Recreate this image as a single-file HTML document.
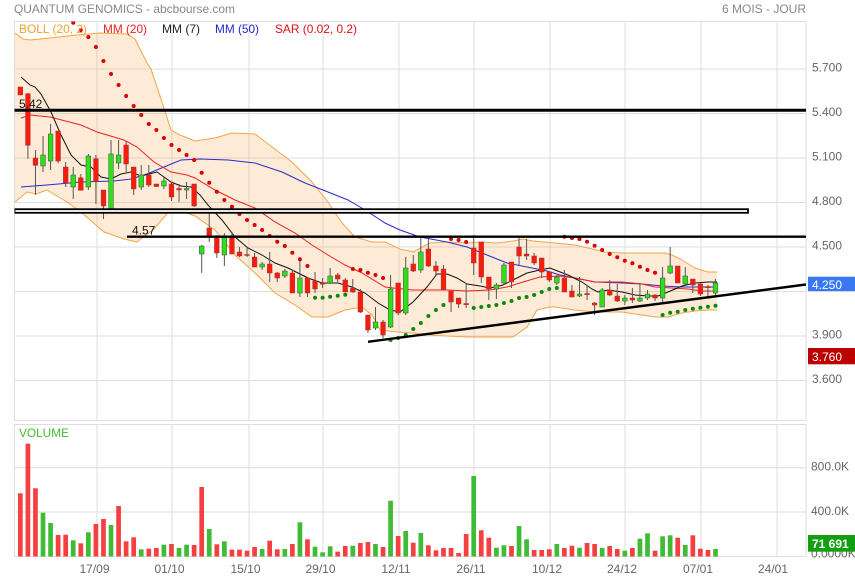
<!DOCTYPE html>
<html><head><meta charset="utf-8"><style>
html,body{margin:0;padding:0;background:#fff;}
svg{display:block;font-family:"Liberation Sans",Arial,sans-serif;}
.w{stroke:#555;stroke-width:1;fill:none}
.r{fill:#f51d0d;stroke:#a33;stroke-width:0.5}
.g{fill:#2ee01a;stroke:#444;stroke-width:0.5}
.vr{fill:#f44040}
.vg{fill:#3fbb35}
.sr{fill:#d80000}
.sg{fill:#0a8a0a}
.ax{font-size:12px;fill:#666}
</style></head><body>
<svg width="855" height="579" viewBox="0 0 855 579" xmlns="http://www.w3.org/2000/svg">
<defs><clipPath id="pc"><rect x="14.5" y="21.5" width="791.5" height="399"/></clipPath></defs>
<text x="14" y="13" font-size="12" fill="#888" textLength="221" lengthAdjust="spacingAndGlyphs">QUANTUM GENOMICS - abcbourse.com</text>
<text x="722" y="13" font-size="12" fill="#888" textLength="84" lengthAdjust="spacingAndGlyphs">6 MOIS - JOUR</text>
<!-- price frame & grid -->
<g stroke="#dedede" stroke-width="1" fill="none">
<rect x="14.5" y="21.5" width="791.5" height="399"/>
<path d="M14.5 69H806M14.5 113.5H806M14.5 158H806M14.5 202.5H806M14.5 247H806M14.5 291.5H806M14.5 336H806M14.5 380.5H806"/>
<path d="M97 21.5V420.5M172 21.5V420.5M249 21.5V420.5M323 21.5V420.5M399 21.5V420.5M474 21.5V420.5M550 21.5V420.5M625 21.5V420.5M701 21.5V420.5M777 21.5V420.5"/>
<rect x="14.5" y="424.5" width="791.5" height="132"/>
<path d="M14.5 467.7H806M14.5 512H806"/>
<path d="M97 424.5V556.5M172 424.5V556.5M249 424.5V556.5M323 424.5V556.5M399 424.5V556.5M474 424.5V556.5M550 424.5V556.5M625 424.5V556.5M701 424.5V556.5M777 424.5V556.5"/>
</g>
<g clip-path="url(#pc)">
<!-- Bollinger -->
<path fill="#f9b060" fill-opacity="0.25" stroke="none" d="M15 33L23 39L30 40L50 38L77 35L100 33L127 34L135 39L147 63L151 69L161 99L171 130L180 135L195 141L215 138L232 133L255 134L272 147L292 162L312 182L328 202L342 223L355 237L372 242L385 242L400 249L413 252L430 243L447 242L467 243L480 242L497 243L513 241L523 239L533 241L555 243L575 245L588 248L605 252L622 253L665 253L672 255L682 260L695 268L708 272L717 272L717 310L708 310L695 311L682 313L668 317L655 317L642 315L622 312L595 312L575 310L555 307L550 307L537 310L527 327L513 337L490 337L467 337L447 336L430 335L413 333L397 332L380 330L372 315L362 307L345 310L328 317L312 317L295 305L275 293L255 273L235 255L215 230L195 216L184 212L171 209L154 229L137 242L124 239L104 232L81 212L67 202L47 190L36 194L27 192L15 202Z"/>
<g fill="none" stroke="#f5a445" stroke-width="1">
<path d="M15 33L23 39L30 40L50 38L77 35L100 33L127 34L135 39L147 63L151 69L161 99L171 130L180 135L195 141L215 138L232 133L255 134L272 147L292 162L312 182L328 202L342 223L355 237L372 242L385 242L400 249L413 252L430 243L447 242L467 243L480 242L497 243L513 241L523 239L533 241L555 243L575 245L588 248L605 252L622 253L665 253L672 255L682 260L695 268L708 272L717 272"/>
<path d="M15 202L27 192L36 194L47 190L67 202L81 212L104 232L124 239L137 242L154 229L171 209L184 212L195 216L215 230L235 255L255 273L275 293L295 305L312 317L328 317L345 310L362 307L372 315L380 330L397 332L413 333L430 335L447 336L467 337L490 337L513 337L527 327L537 310L550 307L555 307L575 310L595 312L622 312L642 315L655 317L668 317L682 313L695 311L708 310L717 310"/>
</g>
<!-- MAs -->
<path fill="none" stroke="#2a2ad0" stroke-width="1" d="M21 187L47 185L81 182L114 181L131 179L147 174L164 167L181 160L200 159L228 160L255 163L282 172L305 183L328 192L348 200L365 210L385 223L400 230L420 237L447 242L467 247L487 255L507 263L527 267L547 271L560 275L575 278L595 282L622 283L642 284L662 286L682 287L717 287"/>
<path fill="none" stroke="#f02020" stroke-width="1" d="M21 118L30 115L50 117L81 125L97 132L124 140L137 147L154 162L171 172L187 175L195 178L215 190L235 200L255 208L275 222L295 233L312 245L328 255L345 265L362 273L385 287L393 288L413 290L447 290L467 291L490 290L507 287L523 282L540 277L560 276L575 278L595 282L622 282L642 284L655 287L672 288L688 289L702 291L717 291"/>
<path fill="none" stroke="#111" stroke-width="1" d="M21 77L30 85L35 87L41 94L51 112L61 135L71 155L81 165L91 167L101 177L111 179L121 174L131 172L141 176L157 172L171 182L181 186L191 187L200 195L208 205L222 220L235 237L248 248L262 255L275 263L288 268L308 278L322 283L338 283L352 287L365 293L378 303L390 310L400 312L413 302L427 287L437 274L447 274L457 278L467 284L480 286L490 288L503 285L513 280L527 273L540 270L550 268L555 270L568 275L582 282L592 289L598 292L608 290L622 292L635 295L648 296L658 296L668 292L682 286L695 283L708 282L717 282"/>
<!-- candles -->
<path class="w" d="M27.91 93V158.7M35.46 150V195M43.02 136V172M50.57 124V170M58.13 131V163M65.69 162V187M73.24 167V199M80.8 174V190.3M88.35 154V190M95.91 155V204M103.47 190V219M111.02 140V212M118.58 140V169M126.13 141V172M133.69 167V195M141.25 165V190M148.8 165V187M156.36 184V187M163.91 177V189M171.47 182V201M179.03 184V202M186.58 182V199M194.14 184V207M201.69 245V273M209.25 213V242M216.81 235V258M224.36 233V266M231.92 232V254M239.47 247V257M247.03 247V257M254.59 253V267M262.14 262V270M269.7 252V282M277.25 272V282M284.81 269V278M292.37 270V293M299.92 258V297M307.48 277V297M315.03 272V293M322.59 278V288M330.15 268V284M337.7 273V282M345.26 278V292M352.81 279V293M360.37 289V313M367.93 315V333M375.48 307V330M383.04 320V338M390.59 275V328M398.15 283V315M405.71 257V315M413.26 255V272M420.82 237V273M428.37 239V267M435.93 261V275M443.49 265V290M451.04 291V312M458.6 298V308M466.15 283V308M473.71 235V275M481.27 242V283M488.82 277V300M496.38 283V299M503.93 263V285M511.49 262V288M519.05 238V265M526.6 239V260M534.16 253V265M541.71 258V278M549.27 272V282M556.83 275V285M564.38 270V292M571.94 285V297M579.49 277V297M587.05 285V300M594.61 302V315M602.16 288V307M609.72 280V296M617.27 284V302M624.83 295V305M632.39 288V303M639.94 283V302M647.5 290V300M655.05 294V301M662.61 267V303M670.17 247V274M677.72 266V283M685.28 267V285M692.83 279V293M700.39 283V296M707.95 285V297M715.5 279V295"/>
<rect class="r" x="18" y="87" width="4.7" height="8"/>
<rect class="r" x="25.56" y="93.7" width="4.7" height="51.6"/>
<rect class="r" x="33.11" y="158" width="4.7" height="7.3"/>
<rect class="g" x="40.67" y="155" width="4.7" height="11"/>
<rect class="g" x="48.22" y="134" width="4.7" height="27"/>
<rect class="r" x="55.78" y="131" width="4.7" height="30"/>
<rect class="r" x="63.34" y="167" width="4.7" height="16"/>
<rect class="g" x="70.89" y="175" width="4.7" height="12"/>
<rect class="r" x="78.45" y="177.7" width="4.7" height="12.6"/>
<rect class="g" x="86" y="156" width="4.7" height="31"/>
<rect class="r" x="93.56" y="158.7" width="4.7" height="22.6"/>
<rect class="r" x="101.12" y="190" width="4.7" height="16"/>
<rect class="g" x="108.67" y="154" width="4.7" height="55"/>
<rect class="g" x="116.23" y="155" width="4.7" height="8"/>
<rect class="r" x="123.78" y="145" width="4.7" height="19"/>
<rect class="r" x="131.34" y="167" width="4.7" height="22"/>
<rect class="g" x="138.9" y="175" width="4.7" height="12"/>
<rect class="r" x="146.45" y="175" width="4.7" height="10"/>
<rect class="r" x="154.01" y="184" width="4.7" height="2.5"/>
<rect class="g" x="161.56" y="181" width="4.7" height="5"/>
<rect class="r" x="169.12" y="184" width="4.7" height="13"/>
<rect class="r" x="176.68" y="188.5" width="4.7" height="1.5"/>
<rect class="g" x="184.23" y="188.5" width="4.7" height="1.5"/>
<rect class="r" x="191.79" y="184" width="4.7" height="22"/>
<rect class="g" x="199.34" y="246" width="4.7" height="8"/>
<rect class="r" x="206.9" y="228" width="4.7" height="8"/>
<rect class="r" x="214.46" y="237" width="4.7" height="16"/>
<rect class="g" x="222.01" y="237" width="4.7" height="18"/>
<rect class="r" x="229.57" y="237" width="4.7" height="17"/>
<rect class="r" x="237.12" y="252" width="4.7" height="4"/>
<rect class="r" x="244.68" y="254.5" width="4.7" height="1"/>
<rect class="r" x="252.24" y="257" width="4.7" height="10"/>
<rect class="g" x="259.79" y="264" width="4.7" height="3"/>
<rect class="r" x="267.35" y="264" width="4.7" height="9"/>
<rect class="r" x="274.9" y="273" width="4.7" height="5"/>
<rect class="g" x="282.46" y="271" width="4.7" height="5"/>
<rect class="r" x="290.02" y="273" width="4.7" height="20"/>
<rect class="g" x="297.57" y="278" width="4.7" height="15"/>
<rect class="r" x="305.13" y="278" width="4.7" height="15"/>
<rect class="r" x="312.68" y="281" width="4.7" height="8"/>
<rect class="r" x="320.24" y="283" width="4.7" height="1.2"/>
<rect class="g" x="327.8" y="276" width="4.7" height="7"/>
<rect class="r" x="335.35" y="275" width="4.7" height="4"/>
<rect class="r" x="342.91" y="280" width="4.7" height="12"/>
<rect class="r" x="350.46" y="288" width="4.7" height="4"/>
<rect class="r" x="358.02" y="292" width="4.7" height="20"/>
<rect class="r" x="365.58" y="315" width="4.7" height="15"/>
<rect class="g" x="373.13" y="322" width="4.7" height="6"/>
<rect class="r" x="380.69" y="322" width="4.7" height="13"/>
<rect class="g" x="388.24" y="289" width="4.7" height="38"/>
<rect class="r" x="395.8" y="283" width="4.7" height="30"/>
<rect class="g" x="403.36" y="268" width="4.7" height="45"/>
<rect class="r" x="410.91" y="264" width="4.7" height="7"/>
<rect class="g" x="418.47" y="252" width="4.7" height="18"/>
<rect class="r" x="426.02" y="249" width="4.7" height="17"/>
<rect class="r" x="433.58" y="266" width="4.7" height="5"/>
<rect class="r" x="441.14" y="269" width="4.7" height="21"/>
<rect class="r" x="448.69" y="291" width="4.7" height="11"/>
<rect class="r" x="456.25" y="298" width="4.7" height="6"/>
<rect class="r" x="463.8" y="303.5" width="4.7" height="1.2"/>
<rect class="r" x="471.36" y="248" width="4.7" height="15"/>
<rect class="r" x="478.92" y="242" width="4.7" height="35"/>
<rect class="r" x="486.47" y="277" width="4.7" height="12"/>
<rect class="g" x="494.03" y="285" width="4.7" height="4"/>
<rect class="g" x="501.58" y="265" width="4.7" height="18"/>
<rect class="r" x="509.14" y="262" width="4.7" height="20"/>
<rect class="r" x="516.7" y="247" width="4.7" height="9"/>
<rect class="r" x="524.25" y="254" width="4.7" height="2"/>
<rect class="r" x="531.81" y="256" width="4.7" height="7"/>
<rect class="r" x="539.36" y="258" width="4.7" height="14"/>
<rect class="r" x="546.92" y="272" width="4.7" height="8"/>
<rect class="g" x="554.48" y="277" width="4.7" height="6"/>
<rect class="r" x="562.03" y="278" width="4.7" height="14"/>
<rect class="r" x="569.59" y="291" width="4.7" height="6"/>
<rect class="g" x="577.14" y="294" width="4.7" height="2"/>
<rect class="r" x="584.7" y="293.5" width="4.7" height="1.2"/>
<rect class="r" x="592.26" y="303" width="4.7" height="2"/>
<rect class="g" x="599.81" y="290" width="4.7" height="17"/>
<rect class="r" x="607.37" y="290" width="4.7" height="5"/>
<rect class="r" x="614.92" y="296" width="4.7" height="5"/>
<rect class="g" x="622.48" y="298" width="4.7" height="3"/>
<rect class="r" x="630.04" y="298" width="4.7" height="2"/>
<rect class="g" x="637.59" y="298" width="4.7" height="3"/>
<rect class="g" x="645.15" y="294" width="4.7" height="4"/>
<rect class="r" x="652.7" y="295" width="4.7" height="3"/>
<rect class="g" x="660.26" y="278" width="4.7" height="20"/>
<rect class="g" x="667.82" y="266" width="4.7" height="7"/>
<rect class="r" x="675.37" y="266" width="4.7" height="17"/>
<rect class="g" x="682.93" y="276" width="4.7" height="8"/>
<rect class="r" x="690.48" y="279" width="4.7" height="6"/>
<rect class="r" x="698.04" y="284" width="4.7" height="10"/>
<rect class="r" x="705.6" y="286.5" width="4.7" height="1.2"/>
<rect class="g" x="713.15" y="283" width="4.7" height="10"/>
<!-- SAR -->
<g class="sr">
<circle cx="73.24" cy="22.7" r="2"/><circle cx="80.8" cy="30" r="2"/><circle cx="88.35" cy="37" r="2"/><circle cx="95.91" cy="47" r="2"/><circle cx="103.47" cy="61" r="2"/><circle cx="111.02" cy="74" r="2"/><circle cx="118.58" cy="85" r="2"/><circle cx="126.13" cy="96" r="2"/><circle cx="133.69" cy="106" r="2"/><circle cx="141.25" cy="115" r="2"/><circle cx="148.8" cy="124" r="2"/><circle cx="156.36" cy="130" r="2"/><circle cx="163.91" cy="138" r="2"/><circle cx="171.47" cy="145" r="2"/><circle cx="179.03" cy="150" r="2"/><circle cx="186.58" cy="155" r="2"/><circle cx="194.14" cy="160" r="2"/><circle cx="201.69" cy="172.7" r="2"/><circle cx="209.25" cy="182.7" r="2"/><circle cx="216.81" cy="191.7" r="2"/><circle cx="224.36" cy="200" r="2"/><circle cx="231.92" cy="206.7" r="2"/><circle cx="239.47" cy="214" r="2"/><circle cx="247.03" cy="220" r="2"/><circle cx="254.59" cy="225" r="2"/><circle cx="262.14" cy="230" r="2"/><circle cx="269.7" cy="236" r="2"/><circle cx="277.25" cy="241.7" r="2"/><circle cx="284.81" cy="246" r="2"/><circle cx="292.37" cy="252.7" r="2"/><circle cx="299.92" cy="259.3" r="2"/><circle cx="307.48" cy="266" r="2"/>
<circle cx="352.81" cy="269" r="2"/><circle cx="360.37" cy="270" r="2"/><circle cx="367.93" cy="272.7" r="2"/><circle cx="375.48" cy="275" r="2"/><circle cx="383.04" cy="278" r="2"/>
<circle cx="451.04" cy="239" r="2"/><circle cx="458.6" cy="240" r="2"/><circle cx="466.15" cy="242" r="2"/>
<circle cx="564.38" cy="236.7" r="2"/><circle cx="571.94" cy="238" r="2"/><circle cx="579.49" cy="239" r="2"/><circle cx="587.05" cy="241.7" r="2"/><circle cx="594.61" cy="245.7" r="2"/><circle cx="602.16" cy="250" r="2"/><circle cx="609.72" cy="254" r="2"/><circle cx="617.27" cy="257.3" r="2"/><circle cx="624.83" cy="260.7" r="2"/><circle cx="632.39" cy="263.3" r="2"/><circle cx="639.94" cy="266.7" r="2"/><circle cx="647.5" cy="270" r="2"/><circle cx="655.05" cy="272.7" r="2"/>
</g>
<g class="sg">
<circle cx="315.03" cy="297.7" r="2"/><circle cx="322.59" cy="297.7" r="2"/><circle cx="330.15" cy="296.7" r="2"/><circle cx="337.7" cy="295.7" r="2"/><circle cx="345.26" cy="294.7" r="2"/>
<circle cx="390.59" cy="340" r="2"/><circle cx="398.15" cy="338" r="2"/><circle cx="405.71" cy="335" r="2"/><circle cx="413.26" cy="329" r="2"/><circle cx="420.82" cy="323" r="2"/><circle cx="428.37" cy="316" r="2"/><circle cx="435.93" cy="310" r="2"/><circle cx="443.49" cy="305" r="2"/>
<circle cx="473.71" cy="308" r="2"/><circle cx="481.27" cy="307" r="2"/><circle cx="488.82" cy="306" r="2"/><circle cx="496.38" cy="305" r="2"/><circle cx="503.93" cy="303" r="2"/><circle cx="511.49" cy="301" r="2"/><circle cx="519.05" cy="298" r="2"/><circle cx="526.6" cy="297" r="2"/><circle cx="534.16" cy="295" r="2"/><circle cx="541.71" cy="292" r="2"/><circle cx="549.27" cy="289" r="2"/><circle cx="556.83" cy="288" r="2"/>
<circle cx="662.61" cy="315" r="2"/><circle cx="670.17" cy="312.7" r="2"/><circle cx="677.72" cy="311.7" r="2"/><circle cx="685.28" cy="310" r="2"/><circle cx="692.83" cy="308.7" r="2"/><circle cx="700.39" cy="307.7" r="2"/><circle cx="707.95" cy="306.7" r="2"/><circle cx="715.5" cy="305.7" r="2"/>
</g>
<!-- drawn lines -->
<rect x="14.5" y="209.2" width="733.5" height="3.6" fill="#fff" stroke="#000" stroke-width="1.8"/>
<path d="M14.5 110.3H806" stroke="#000" stroke-width="3"/>
<path d="M127 236.7H806" stroke="#000" stroke-width="2.4"/>
<path d="M368 341.8L806 284.5" stroke="#000" stroke-width="2.4"/>
</g>
<text x="19" y="108" font-size="12" fill="#111">5.42</text>
<text x="132" y="234.5" font-size="12" fill="#111">4.57</text>
<!-- legend -->
<g font-size="12">
<text x="19" y="33" fill="#f5a030" textLength="68" lengthAdjust="spacingAndGlyphs">BOLL (20, 2)</text>
<text x="103" y="33" fill="#ee2020" textLength="44" lengthAdjust="spacingAndGlyphs">MM (20)</text>
<text x="162" y="33" fill="#222" textLength="38" lengthAdjust="spacingAndGlyphs">MM (7)</text>
<text x="215" y="33" fill="#2525d0" textLength="44" lengthAdjust="spacingAndGlyphs">MM (50)</text>
<text x="275" y="33" fill="#dd1111" textLength="82" lengthAdjust="spacingAndGlyphs">SAR (0.02, 0.2)</text>
</g>
<!-- y axis -->
<g class="ax">
<text x="812" y="71.7">5.700</text>
<text x="812" y="116">5.400</text>
<text x="812" y="160.7">5.100</text>
<text x="812" y="205">4.800</text>
<text x="812" y="249.5">4.500</text>
<text x="812" y="338.5">3.900</text>
<text x="812" y="383">3.600</text>
</g>
<rect x="808" y="276.7" width="47" height="14.6" fill="#3a78f2"/>
<text x="812" y="289" font-size="12" fill="#fff">4.250</text>
<rect x="808" y="348" width="47" height="16.3" fill="#bb0000"/>
<text x="812" y="361" font-size="12" fill="#fff">3.760</text>
<!-- volume -->
<text x="19" y="437" font-size="12" fill="#44bb33" textLength="50" lengthAdjust="spacingAndGlyphs">VOLUME</text>
<g class="vr">
<rect x="18" y="493.3" width="4.7" height="63.2"/><rect x="25.56" y="443.7" width="4.7" height="112.8"/><rect x="33.11" y="488.3" width="4.7" height="68.2"/><rect x="55.78" y="535" width="4.7" height="21.5"/><rect x="63.34" y="534.7" width="4.7" height="21.8"/><rect x="78.45" y="543.3" width="4.7" height="13.2"/><rect x="93.56" y="524" width="4.7" height="32.5"/><rect x="101.12" y="519" width="4.7" height="37.5"/><rect x="116.23" y="506" width="4.7" height="50.5"/><rect x="123.78" y="541.3" width="4.7" height="15.2"/><rect x="131.34" y="537.3" width="4.7" height="19.2"/><rect x="146.45" y="548.7" width="4.7" height="7.8"/><rect x="154.01" y="548" width="4.7" height="8.5"/><rect x="169.12" y="544" width="4.7" height="12.5"/><rect x="191.79" y="545" width="4.7" height="11.5"/><rect x="199.34" y="487" width="4.7" height="69.5"/><rect x="214.46" y="544.3" width="4.7" height="12.2"/><rect x="229.57" y="549.7" width="4.7" height="6.8"/><rect x="237.12" y="549.7" width="4.7" height="6.8"/><rect x="244.68" y="550.7" width="4.7" height="5.8"/><rect x="252.24" y="547" width="4.7" height="9.5"/><rect x="267.35" y="540.7" width="4.7" height="15.8"/><rect x="274.9" y="549.3" width="4.7" height="7.2"/><rect x="290.02" y="544" width="4.7" height="12.5"/><rect x="305.13" y="539.3" width="4.7" height="17.2"/><rect x="335.35" y="551.7" width="4.7" height="4.8"/><rect x="342.91" y="546" width="4.7" height="10.5"/><rect x="358.02" y="543" width="4.7" height="13.5"/><rect x="365.58" y="542" width="4.7" height="14.5"/><rect x="380.69" y="547" width="4.7" height="9.5"/><rect x="395.8" y="536" width="4.7" height="20.5"/><rect x="410.91" y="542.7" width="4.7" height="13.8"/><rect x="426.02" y="545.3" width="4.7" height="11.2"/><rect x="433.58" y="550.3" width="4.7" height="6.2"/><rect x="441.14" y="548" width="4.7" height="8.5"/><rect x="448.69" y="548" width="4.7" height="8.5"/><rect x="456.25" y="553" width="4.7" height="3.5"/><rect x="463.8" y="534" width="4.7" height="22.5"/><rect x="478.92" y="530.3" width="4.7" height="26.2"/><rect x="486.47" y="537.7" width="4.7" height="18.8"/><rect x="509.14" y="546" width="4.7" height="10.5"/><rect x="531.81" y="550" width="4.7" height="6.5"/><rect x="539.36" y="550" width="4.7" height="6.5"/><rect x="546.92" y="549.3" width="4.7" height="7.2"/><rect x="562.03" y="548" width="4.7" height="8.5"/><rect x="569.59" y="545.7" width="4.7" height="10.8"/><rect x="584.7" y="543" width="4.7" height="13.5"/><rect x="592.26" y="544" width="4.7" height="12.5"/><rect x="607.37" y="546" width="4.7" height="10.5"/><rect x="614.92" y="549" width="4.7" height="7.5"/><rect x="630.04" y="548" width="4.7" height="8.5"/><rect x="652.7" y="550.7" width="4.7" height="5.8"/><rect x="675.37" y="537.7" width="4.7" height="18.8"/><rect x="690.48" y="535.3" width="4.7" height="21.2"/><rect x="698.04" y="548.7" width="4.7" height="7.8"/><rect x="705.6" y="550" width="4.7" height="6.5"/>
</g>
<g class="vg">
<rect x="40.67" y="512.7" width="4.7" height="43.8"/><rect x="48.22" y="523" width="4.7" height="33.5"/><rect x="70.89" y="540.3" width="4.7" height="16.2"/><rect x="86" y="532.3" width="4.7" height="24.2"/><rect x="108.67" y="525" width="4.7" height="31.5"/><rect x="138.9" y="549.3" width="4.7" height="7.2"/><rect x="161.56" y="544.7" width="4.7" height="11.8"/><rect x="176.68" y="548" width="4.7" height="8.5"/><rect x="184.23" y="544.7" width="4.7" height="11.8"/><rect x="206.9" y="529" width="4.7" height="27.5"/><rect x="222.01" y="541.3" width="4.7" height="15.2"/><rect x="259.79" y="549" width="4.7" height="7.5"/><rect x="282.46" y="549" width="4.7" height="7.5"/><rect x="297.57" y="522.3" width="4.7" height="34.2"/><rect x="312.68" y="546.7" width="4.7" height="9.8"/><rect x="320.24" y="552.3" width="4.7" height="4.2"/><rect x="327.8" y="546.3" width="4.7" height="10.2"/><rect x="350.46" y="545.7" width="4.7" height="10.8"/><rect x="373.13" y="544" width="4.7" height="12.5"/><rect x="388.24" y="500.7" width="4.7" height="55.8"/><rect x="403.36" y="531" width="4.7" height="25.5"/><rect x="418.47" y="533" width="4.7" height="23.5"/><rect x="471.36" y="476" width="4.7" height="80.5"/><rect x="494.03" y="547.7" width="4.7" height="8.8"/><rect x="501.58" y="545.3" width="4.7" height="11.2"/><rect x="516.7" y="526" width="4.7" height="30.5"/><rect x="524.25" y="539.3" width="4.7" height="17.2"/><rect x="554.48" y="544" width="4.7" height="12.5"/><rect x="577.14" y="547.7" width="4.7" height="8.8"/><rect x="599.81" y="548" width="4.7" height="8.5"/><rect x="622.48" y="550.7" width="4.7" height="5.8"/><rect x="637.59" y="538.7" width="4.7" height="17.8"/><rect x="645.15" y="533.3" width="4.7" height="23.2"/><rect x="660.26" y="536.3" width="4.7" height="20.2"/><rect x="667.82" y="535.3" width="4.7" height="21.2"/><rect x="682.93" y="545" width="4.7" height="11.5"/><rect x="713.15" y="549" width="4.7" height="7.5"/>
</g>
<g class="ax">
<text x="811" y="470.5">800.0K</text>
<text x="811" y="515">400.0K</text>
<text x="811" y="557.5">0.0000K</text>
</g>
<rect x="808" y="535" width="47" height="16.7" fill="#12a012"/>
<text x="812" y="548" font-size="12" font-weight="bold" fill="#fff">71 691</text>
<!-- x axis -->
<g class="ax" text-anchor="middle">
<text x="94.5" y="573">17/09</text>
<text x="169.5" y="573">01/10</text>
<text x="245.5" y="573">15/10</text>
<text x="320.5" y="573">29/10</text>
<text x="396" y="573">12/11</text>
<text x="471" y="573">26/11</text>
<text x="547" y="573">10/12</text>
<text x="622" y="573">24/12</text>
<text x="698" y="573">07/01</text>
<text x="773" y="573">24/01</text>
</g>
</svg>
</body></html>
